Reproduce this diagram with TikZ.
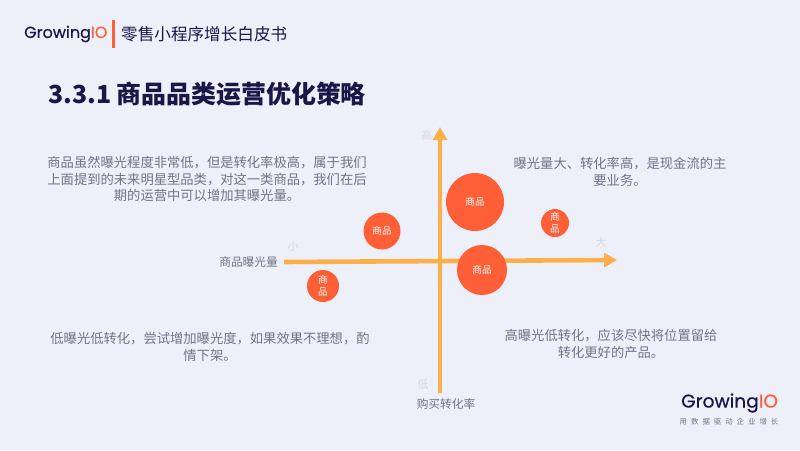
\documentclass[tikz,border=0pt]{standalone}
\usepackage{fontspec}
\setmainfont{Noto Sans CJK SC}
\newfontfamily\logofont[FakeBold=0.6]{Poppins}
\usetikzlibrary{arrows.meta,positioning}
\definecolor{bgColor}{RGB}{237,240,249}
\definecolor{axisColor}{RGB}{253,175,75}
\definecolor{bubbleColor}{RGB}{255,95,55}
\definecolor{inkColor}{RGB}{27,22,72}
\definecolor{noteColor}{RGB}{112,116,136}
\definecolor{hintColor}{RGB}{214,216,225}
\tikzset{bubble/.style={circle, fill=bubbleColor, text=white, inner sep=0pt, font=\fontsize{9.7}{11.5}\selectfont, align=center}}
\tikzset{note/.style={text=noteColor, align=center, inner sep=0pt, font=\fontsize{13.3}{16.5}\selectfont}}
\tikzset{axislabel/.style={text=noteColor, inner sep=0pt, font=\fontsize{11.7}{14}\selectfont}}
\tikzset{hint/.style={text=hintColor, inner sep=0pt, font=\fontsize{11}{13}\selectfont}}
\tikzset{axis/.style={draw=axisColor, line width=4.6pt, -{Triangle[length=13pt, width=14pt]}}}

\begin{document}
\begin{tikzpicture}[x=1pt, y=-1pt]
\useasboundingbox (0,0) rectangle (800,450);
\fill[bgColor] (0,0) rectangle (800,450);

% Header
\node (logo) [anchor=west, inner sep=0pt, text=inkColor, font=\logofont\fontsize{16}{20}\selectfont] at (24,34) {Growing\textcolor{bubbleColor}{IO}};
\node (bar) [fill=bubbleColor, minimum width=3pt, minimum height=28pt, inner sep=0pt] at (113.5,34) {};
\node (booktitle) [anchor=west, inner sep=0pt, text=inkColor, font=\fontsize{16.6}{20}\selectfont] at (121,34) {零售小程序增长白皮书};
\node (title) [anchor=west, inner sep=0pt, text=inkColor, font=\fontsize{24.9}{30}\bfseries\selectfont] at (48,94) {3.3.1 商品品类运营优化策略};

% Axes
\coordinate (xstart) at (284,262);
\coordinate (xend) at (617,260);
\coordinate (ystart) at (440,393);
\coordinate (yend) at (440,127);
\draw [axis] (xstart) -- (xend);
\draw [axis] (ystart) -- (yend);

\node (xlabel) [axislabel, anchor=east] at (278,262) {商品曝光量};
\node (ylabel) [axislabel] at (446,404) {购买转化率};
\node (small) [hint] at (293,246) {小};
\node (large) [hint] at (601,242) {大};
\node (high) [hint] at (427,135) {高};
\node (low) [hint] at (423,384) {低};

% Bubbles
\node (big) [bubble, minimum size=58pt] at (475,202) {商品};
\node (left) [bubble, minimum size=37pt] at (382,231) {商品};
\node (right) [bubble, minimum size=28pt] at (555,223) {商\\品};
\node (mid) [bubble, minimum size=50pt] at (482,270) {商品};
\node (lower) [bubble, minimum size=32pt] at (323,286) {商\\品};

% Notes
\node (topleft) [note] at (207,179) {商品虽然曝光程度非常低，但是转化率极高，属于我们\\上面提到的未来明星型品类，对这一类商品，我们在后\\期的运营中可以增加其曝光量。};
\node (topright) [note] at (620,172) {曝光量大、转化率高，是现金流的主\\要业务。};
\node (bottomleft) [note] at (210,347) {低曝光低转化，尝试增加曝光度，如果效果不理想，酌\\情下架。};
\node (bottomright) [note] at (611,344) {高曝光低转化，应该尽快将位置留给\\转化更好的产品。};

% Logo
\node (logotwo) [anchor=west, inner sep=0pt, text=inkColor, font=\logofont\fontsize{18.6}{22}\selectfont] at (681,403) {Growing\textcolor{bubbleColor}{IO}};
\node (slogan) [inner sep=0pt, text=noteColor, font=\fontsize{7.4}{9}\selectfont] at (729,422) {用\hspace{4pt}数\hspace{4pt}据\hspace{4pt}驱\hspace{4pt}动\hspace{4pt}企\hspace{4pt}业\hspace{4pt}增\hspace{4pt}长};
\end{tikzpicture}
\end{document}
